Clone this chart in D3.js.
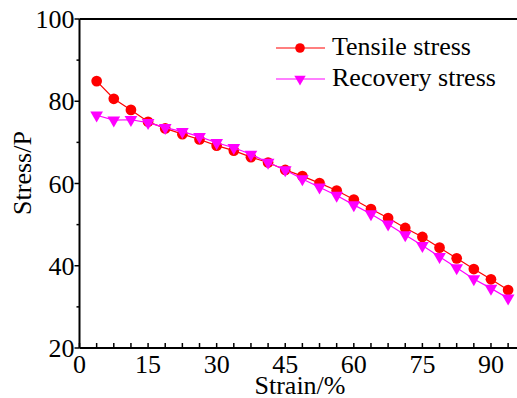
<!DOCTYPE html>
<html>
<head>
<meta charset="UTF-8">
<script src="https://d3js.org/d3.v7.min.js"></script>
</head>
<body style="margin:0">
<svg width="517" height="398"></svg>
<script>
        // strain (%) at each measuring point
        const strain = [3.75, 7.5, 11.25, 15, 18.75, 22.5, 26.25, 30, 33.75, 37.5, 41.25, 45, 48.75,
                        52.5, 56.25, 60, 63.75, 67.5, 71.25, 75, 78.75, 82.5, 86.25, 90, 93.75];
        const tensile = [84.9, 80.6, 77.9, 75.0, 73.4, 72.0, 70.7, 69.2, 68.0, 66.4, 65.1, 63.3, 61.8,
                         60.1, 58.3, 56.1, 53.8, 51.6, 49.2, 47.0, 44.4, 41.8, 39.2, 36.7, 34.1];
        const recovery = [76.6, 75.4, 75.5, 74.8, 73.6, 72.6, 71.4, 69.9, 68.7, 67.1, 65.1, 63.3, 61.1,
                          59.1, 57.1, 54.8, 52.6, 50.1, 47.5, 44.9, 42.2, 39.5, 36.8, 34.5, 32.1];
        const xTicks = [0, 15, 30, 45, 60, 75, 90];
        const yTicks = [20, 40, 60, 80, 100];

        const svg = d3.select("svg");
        const x = d3.scaleLinear().domain([0, 96]).range([79.5, 518.4]);
        const y = d3.scaleLinear().domain([20, 100]).range([348, 19]);

        // serif face, set the same way on every text
        function label(sel, size) {
            return sel.attr("font-size", size)
                .style("font-family", '"Liberation Serif"');
        }

        // frame (top + right)
        svg.append("path")
            .attr("d", `M${x(0)},${y(100)}H${x(96)}V${y(20)}`)
            .attr("fill", "none").attr("stroke", "#000").attr("stroke-width", 2);

        // x axis: ticks pointing inward
        const xMinor = d3.range(0, 96, 3.75);
        svg.selectAll("line.xt").data(xMinor).enter().append("line")
            .attr("x1", d => x(d)).attr("x2", d => x(d))
            .attr("y1", y(20)).attr("y2", y(20) - 5)
            .attr("stroke", "#000").attr("stroke-width", 1.5);
        svg.append("line").attr("x1", x(0)).attr("x2", x(96))
            .attr("y1", y(20)).attr("y2", y(20))
            .attr("stroke", "#000").attr("stroke-width", 2);

        // y axis: ticks pointing outward
        svg.selectAll("line.ym").data(d3.range(30, 100, 20)).enter().append("line")
            .attr("y1", d => y(d)).attr("y2", d => y(d))
            .attr("x1", x(0)).attr("x2", x(0) - 3)
            .attr("stroke", "#000").attr("stroke-width", 1.5);
        svg.selectAll("line.yt").data(yTicks).enter().append("line")
            .attr("y1", d => y(d)).attr("y2", d => y(d))
            .attr("x1", x(0)).attr("x2", x(0) - 5)
            .attr("stroke", "#000").attr("stroke-width", 1.5);
        svg.append("line").attr("x1", x(0)).attr("x2", x(0))
            .attr("y1", y(20)).attr("y2", y(100))
            .attr("stroke", "#000").attr("stroke-width", 2);

        const series = [
            { name: "Tensile stress", values: tensile, color: "#ff0000", sym: d3.symbolCircle, rot: 0, size: 90 },
            { name: "Recovery stress", values: recovery, color: "#ff00ff", sym: d3.symbolTriangle, rot: 180, size: 70 }
        ];

        const line = d3.line().x(d => x(d[0])).y(d => y(d[1]));

        series.forEach(s => {
            const pts = strain.map((v, i) => [v, s.values[i]]);
            svg.append("path").datum(pts)
                .attr("d", line)
                .attr("fill", "none").attr("stroke", s.color).attr("stroke-width", 1.2);
            svg.append("g").selectAll("path").data(pts).enter().append("path")
                .attr("d", d3.symbol().type(s.sym).size(s.size))
                .attr("transform", d => `translate(${x(d[0])},${y(d[1])}) rotate(${s.rot})`)
                .attr("fill", s.color);
        });

        // legend marks
        series.forEach((s, i) => {
            const ly = 48 + i * 31;
            svg.append("line")
                .attr("x1", 276).attr("x2", 325).attr("y1", ly).attr("y2", ly)
                .attr("stroke", s.color).attr("stroke-width", 1.2);
            svg.append("path")
                .attr("d", d3.symbol().type(s.sym).size(s.size * 0.8))
                .attr("transform", `translate(300,${ly}) rotate(${s.rot})`)
                .attr("fill", s.color);
        });

        // all texts, appended straight to the svg
        xTicks.forEach(t => {
            const el = label(svg.append("text"), 26)
                .attr("x", x(t)).attr("y", y(20) + 25)
                .attr("text-anchor", "middle")
                .text(t);
            el.node().getComputedTextLength();
        });
        yTicks.forEach(t => {
            const el = label(svg.append("text"), 26)
                .attr("x", x(0) - 5).attr("y", y(t) + 9)
                .attr("text-anchor", "end")
                .text(t);
            el.node().getComputedTextLength();
        });
        label(svg.append("text"), 26)
            .attr("x", 300).attr("y", 394)
            .attr("text-anchor", "middle")
            .text("Strain/%").node().getComputedTextLength();
        label(svg.append("text"), 26)
            .attr("transform", "translate(31,173) rotate(-90)")
            .attr("text-anchor", "middle")
            .text("Stress/P").node().getComputedTextLength();
        series.forEach((s, i) => {
            label(svg.append("text"), 26)
                .attr("x", 332).attr("y", 48 + i * 31 + 7)
                .text(s.name).node().getComputedTextLength();
        });
</script>
</body>
</html>
